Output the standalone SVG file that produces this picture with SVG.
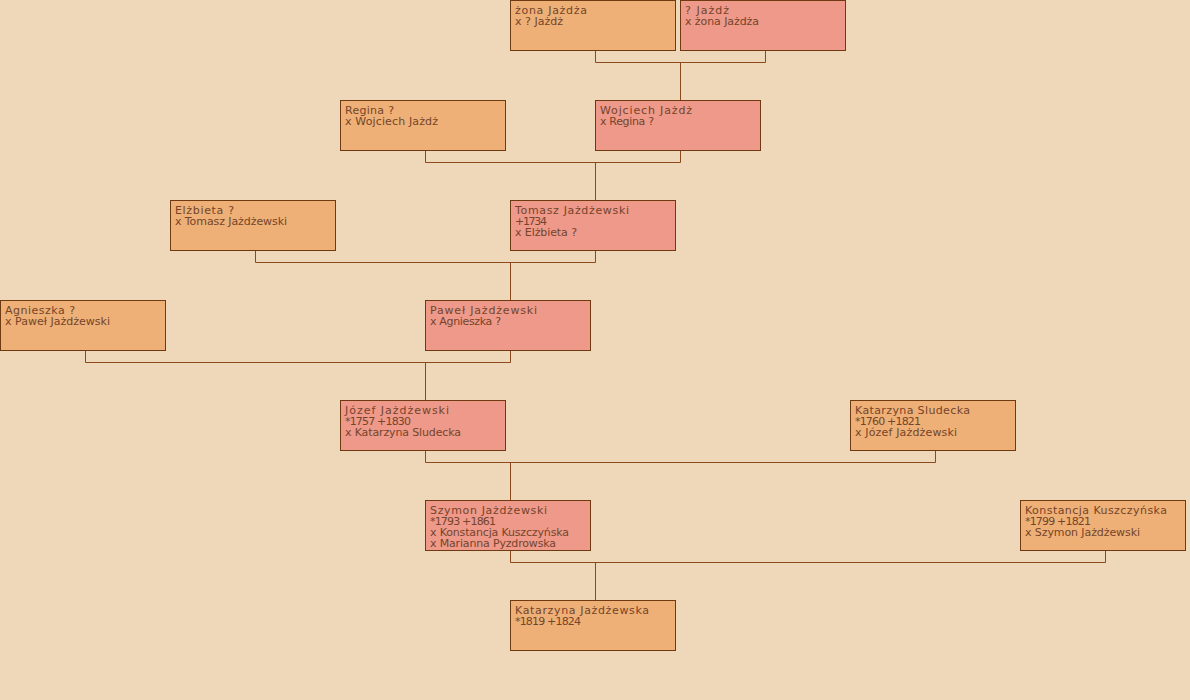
<svg xmlns="http://www.w3.org/2000/svg" width="1190" height="700" viewBox="0 0 1190 700">
<style>
.bg{fill:#EED8B9}
.m rect{fill:#EEB077;stroke:#6E3A12;stroke-width:1}
.f rect{fill:#EE998A;stroke:#6E3A12;stroke-width:1}
text{font-family:"DejaVu Sans",sans-serif;font-size:11px;fill:#74452A}
#connectors path{fill:none;stroke:#8A4A1C;stroke-width:1}
</style>
<rect class="bg" x="0" y="0" width="1190" height="700"/>
<g id="connectors">
<path d="M595.5 50 V62.5 H765.5 V50 M680.5 62.5 V100"/>
<path d="M425.5 150 V162.5 H680.5 V150 M595.5 162.5 V200"/>
<path d="M255.5 250 V262.5 H595.5 V250 M510.5 262.5 V300"/>
<path d="M85.5 350 V362.5 H510.5 V350 M425.5 362.5 V400"/>
<path d="M425.5 450 V462.5 H935.5 V450 M510.5 462.5 V500"/>
<path d="M510.5 550 V562.5 H1105.5 V550 M595.5 562.5 V600"/>
</g>
<g id="n1" class="m"><rect x="510.5" y="0.5" width="165" height="50"/><text x="515" y="14" textLength="72" lengthAdjust="spacing">żona Jażdża</text><text x="515" y="25" textLength="48" lengthAdjust="spacing">x ? Jażdż</text></g>
<g id="n2" class="f"><rect x="680.5" y="0.5" width="165" height="50"/><text x="685" y="14" textLength="44" lengthAdjust="spacing">? Jażdż</text><text x="685" y="25" textLength="74" lengthAdjust="spacing">x żona Jażdża</text></g>
<g id="n3" class="m"><rect x="340.5" y="100.5" width="165" height="50"/><text x="345" y="114" textLength="49" lengthAdjust="spacing">Regina ?</text><text x="345" y="125" textLength="93" lengthAdjust="spacing">x Wojciech Jażdż</text></g>
<g id="n4" class="f"><rect x="595.5" y="100.5" width="165" height="50"/><text x="600" y="114" textLength="92" lengthAdjust="spacing">Wojciech Jażdż</text><text x="600" y="125" textLength="54" lengthAdjust="spacing">x Regina ?</text></g>
<g id="n5" class="m"><rect x="170.5" y="200.5" width="165" height="50"/><text x="175" y="214" textLength="59" lengthAdjust="spacing">Elżbieta ?</text><text x="175" y="225" textLength="112" lengthAdjust="spacing">x Tomasz Jażdżewski</text></g>
<g id="n6" class="f"><rect x="510.5" y="200.5" width="165" height="50"/><text x="515" y="214" textLength="114" lengthAdjust="spacing">Tomasz Jażdżewski</text><text x="515" y="225" textLength="32" lengthAdjust="spacing">+1734</text><text x="515" y="236" textLength="62" lengthAdjust="spacing">x Elżbieta ?</text></g>
<g id="n7" class="m"><rect x="0.5" y="300.5" width="165" height="50"/><text x="5" y="314" textLength="70" lengthAdjust="spacing">Agnieszka ?</text><text x="5" y="325" textLength="105" lengthAdjust="spacing">x Paweł Jażdżewski</text></g>
<g id="n8" class="f"><rect x="425.5" y="300.5" width="165" height="50"/><text x="430" y="314" textLength="107" lengthAdjust="spacing">Paweł Jażdżewski</text><text x="430" y="325" textLength="71" lengthAdjust="spacing">x Agnieszka ?</text></g>
<g id="n9" class="f"><rect x="340.5" y="400.5" width="165" height="50"/><text x="345" y="414" textLength="104" lengthAdjust="spacing">Józef Jażdżewski</text><text x="345" y="425" textLength="66" lengthAdjust="spacing">*1757 +1830</text><text x="345" y="436" textLength="116" lengthAdjust="spacing">x Katarzyna Sludecka</text></g>
<g id="n10" class="m"><rect x="850.5" y="400.5" width="165" height="50"/><text x="855" y="414" textLength="115" lengthAdjust="spacing">Katarzyna Sludecka</text><text x="855" y="425" textLength="66" lengthAdjust="spacing">*1760 +1821</text><text x="855" y="436" textLength="102" lengthAdjust="spacing">x Józef Jażdżewski</text></g>
<g id="n11" class="f"><rect x="425.5" y="500.5" width="165" height="50"/><text x="430" y="514" textLength="117" lengthAdjust="spacing">Szymon Jażdżewski</text><text x="430" y="525" textLength="66" lengthAdjust="spacing">*1793 +1861</text><text x="430" y="536" textLength="139" lengthAdjust="spacing">x Konstancja Kuszczyńska</text><text x="430" y="547" textLength="126" lengthAdjust="spacing">x Marianna Pyzdrowska</text></g>
<g id="n12" class="m"><rect x="1020.5" y="500.5" width="165" height="50"/><text x="1025" y="514" textLength="142" lengthAdjust="spacing">Konstancja Kuszczyńska</text><text x="1025" y="525" textLength="66" lengthAdjust="spacing">*1799 +1821</text><text x="1025" y="536" textLength="115" lengthAdjust="spacing">x Szymon Jażdżewski</text></g>
<g id="n13" class="m"><rect x="510.5" y="600.5" width="165" height="50"/><text x="515" y="614" textLength="134" lengthAdjust="spacing">Katarzyna Jażdżewska</text><text x="515" y="625" textLength="66" lengthAdjust="spacing">*1819 +1824</text></g>
</svg>
